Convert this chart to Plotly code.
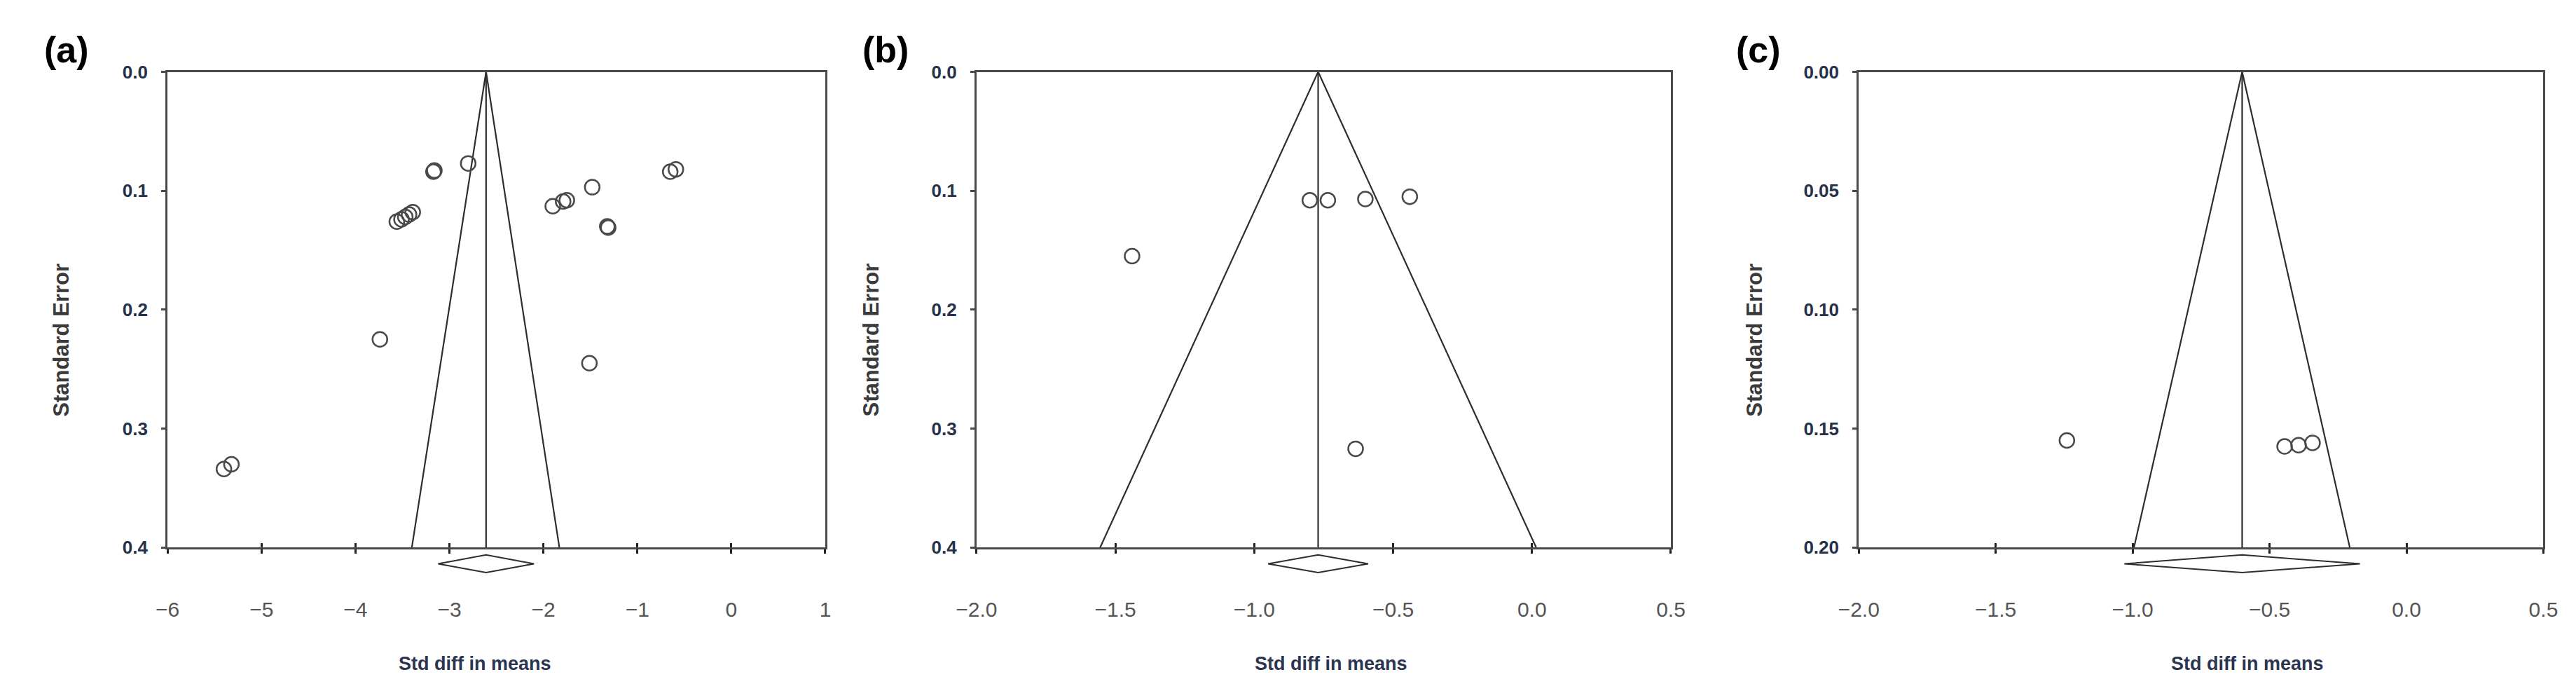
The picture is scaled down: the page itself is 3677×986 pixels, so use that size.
import plotly.graph_objects as go

# ---- panel (a) ----
a_smd = [-2.80, -3.17, -3.16, -3.56, -3.51, -3.47, -3.43, -3.39, -3.74, -5.40, -5.32,
         -1.90, -1.79, -1.75, -1.48, -1.32, -1.31, -1.51, -0.65, -0.59]
a_se = [0.077, 0.084, 0.083, 0.126, 0.124, 0.122, 0.120, 0.118, 0.225, 0.334, 0.330,
        0.113, 0.109, 0.108, 0.097, 0.130, 0.131, 0.245, 0.084, 0.082]
a_center = -2.61
a_funnel = [-3.40, -1.83]
a_ci = [-3.12, -2.10]
a_se_max = 0.4
a_xticks = [-6, -5, -4, -3, -2, -1, 0, 1]
a_yticks = [0.0, 0.1, 0.2, 0.3, 0.4]

# ---- panel (b) ----
b_smd = [-1.44, -0.80, -0.735, -0.60, -0.44, -0.635]
b_se = [0.155, 0.108, 0.108, 0.107, 0.105, 0.317]
b_center = -0.77
b_funnel = [-1.555, 0.015]
b_ci = [-0.95, -0.59]
b_se_max = 0.4
b_xticks = [-2.0, -1.5, -1.0, -0.5, 0.0, 0.5]
b_yticks = [0.0, 0.1, 0.2, 0.3, 0.4]

# ---- panel (c) ----
c_smd = [-1.24, -0.445, -0.394, -0.343]
c_se = [0.155, 0.1575, 0.157, 0.156]
c_center = -0.60
c_funnel = [-0.995, -0.207]
c_ci = [-1.03, -0.17]
c_se_max = 0.2
c_xticks = [-2.0, -1.5, -1.0, -0.5, 0.0, 0.5]
c_yticks = [0.00, 0.05, 0.10, 0.15, 0.20]

W, H = 3677, 986
panels = [
    dict(smd=a_smd, se=a_se, center=a_center, funnel=a_funnel, ci=a_ci, se_max=a_se_max,
         xticks=a_xticks, yticks=a_yticks, xfmt="d", yfmt=".1f",
         px=(204, 1156), label="(a)", label_x=23, ytitle_x=50, xtitle_x=649),
    dict(smd=b_smd, se=b_se, center=b_center, funnel=b_funnel, ci=b_ci, se_max=b_se_max,
         xticks=b_xticks, yticks=b_yticks, xfmt=".1f", yfmt=".1f",
         px=(1375, 2380), label="(b)", label_x=1208, ytitle_x=1222, xtitle_x=1888),
    dict(smd=c_smd, se=c_se, center=c_center, funnel=c_funnel, ci=c_ci, se_max=c_se_max,
         xticks=c_xticks, yticks=c_yticks, xfmt=".1f", yfmt=".2f",
         px=(2652, 3643), label="(c)", label_x=2472, ytitle_x=2501, xtitle_x=3215),
]

top_px, bot_px = 82, 782
ydom = [1 - bot_px / H, 1 - top_px / H]

FRAME = "#4a4a4a"
INK = "#2e2e2e"
ARIAL = "Liberation Sans, Arial, sans-serif"

fig = go.Figure()
layout = dict(width=W, height=H, autosize=False, margin=dict(l=0, r=0, t=0, b=0),
              paper_bgcolor="white", plot_bgcolor="white", showlegend=False)
annotations = []
shapes = []

for i, p in enumerate(panels, start=1):
    sx = "" if i == 1 else str(i)
    xa, ya = "x" + sx, "y" + sx
    xr = [p["xticks"][0], p["xticks"][-1]]

    # funnel and pooled-estimate line
    fig.add_trace(go.Scatter(
        x=[p["funnel"][0], p["center"], p["funnel"][1]], y=[p["se_max"], 0, p["se_max"]],
        mode="lines", line=dict(color=INK, width=2.2), xaxis=xa, yaxis=ya, hoverinfo="skip"))
    fig.add_trace(go.Scatter(
        x=[p["center"], p["center"]], y=[0, p["se_max"]],
        mode="lines", line=dict(color=INK, width=2.2), xaxis=xa, yaxis=ya, hoverinfo="skip"))
    # studies
    fig.add_trace(go.Scatter(
        x=p["smd"], y=p["se"], mode="markers", xaxis=xa, yaxis=ya,
        marker=dict(symbol="circle-open", size=21, color="#4a4a4a", line=dict(width=2.5))))
    # invisible trace to carry the inside half of the x tick marks
    ox = "x" + str(i + 3)
    fig.add_trace(go.Scatter(x=[None], y=[None], xaxis=ox, yaxis=ya, showlegend=False))

    xdom = [p["px"][0] / W, p["px"][1] / W]
    layout["xaxis" + sx] = dict(
        domain=xdom, anchor=ya, range=xr, tickmode="array", tickvals=p["xticks"],
        tickformat=p["xfmt"], ticks="outside", ticklen=6, tickwidth=2.5, tickcolor="#222",
        showline=True, linecolor=FRAME, linewidth=3, mirror=True, showgrid=False,
        zeroline=False, ticklabelstandoff=54,
        tickfont=dict(family=ARIAL, size=30, color="#555555"))
    layout["xaxis" + str(i + 3)] = dict(
        domain=xdom, anchor=ya, overlaying=xa, range=xr, tickmode="array",
        tickvals=p["xticks"], ticks="inside", ticklen=6, tickwidth=2.5, tickcolor="#222",
        showticklabels=False, showline=False, showgrid=False, zeroline=False)
    layout["yaxis" + sx] = dict(
        domain=ydom, anchor=xa, range=[p["se_max"], 0], tickmode="array",
        tickvals=p["yticks"], tickformat=p["yfmt"], ticks="outside", ticklen=6,
        tickwidth=2.5, tickcolor=FRAME, showline=True, linecolor=FRAME, linewidth=3,
        mirror=True, showgrid=False, zeroline=False, ticklabelstandoff=14,
        tickfont=dict(family=ARIAL, size=26, color="#26324a", weight="bold"))

    # pooled-effect diamond below the axis
    yc, hh = -24 / 700, 13 / 700
    lo, hi = p["ci"]
    shapes.append(dict(
        type="path", xref=xa, yref=ya + " domain",
        path=f"M {lo},{yc} L {p['center']},{yc - hh} L {hi},{yc} L {p['center']},{yc + hh} Z",
        line=dict(color=INK, width=2), fillcolor="white"))

    annotations += [
        dict(text=p["label"], x=p["label_x"] / W, y=1 - 49 / H, xref="paper", yref="paper",
             xanchor="left", yanchor="middle", showarrow=False,
             font=dict(family=ARIAL, size=52, color="black", weight="bold")),
        dict(text="Standard Error", x=p["ytitle_x"] / W, y=1 - 477 / H, xref="paper",
             yref="paper", xanchor="center", yanchor="middle", textangle=-90, showarrow=False,
             font=dict(family=ARIAL, size=31, color="#3a3a3a", weight="bold")),
        dict(text="Std diff in means", x=p["xtitle_x"] / W, y=1 - 953 / H, xref="paper",
             yref="paper", xanchor="center", yanchor="middle", showarrow=False,
             font=dict(family=ARIAL, size=27, color="#2b3550", weight="bold")),
    ]

for tr in fig.data:
    tr.showlegend = False
layout["annotations"] = annotations
layout["shapes"] = shapes
fig.update_layout(**layout)
fig.write_html("out.html")
